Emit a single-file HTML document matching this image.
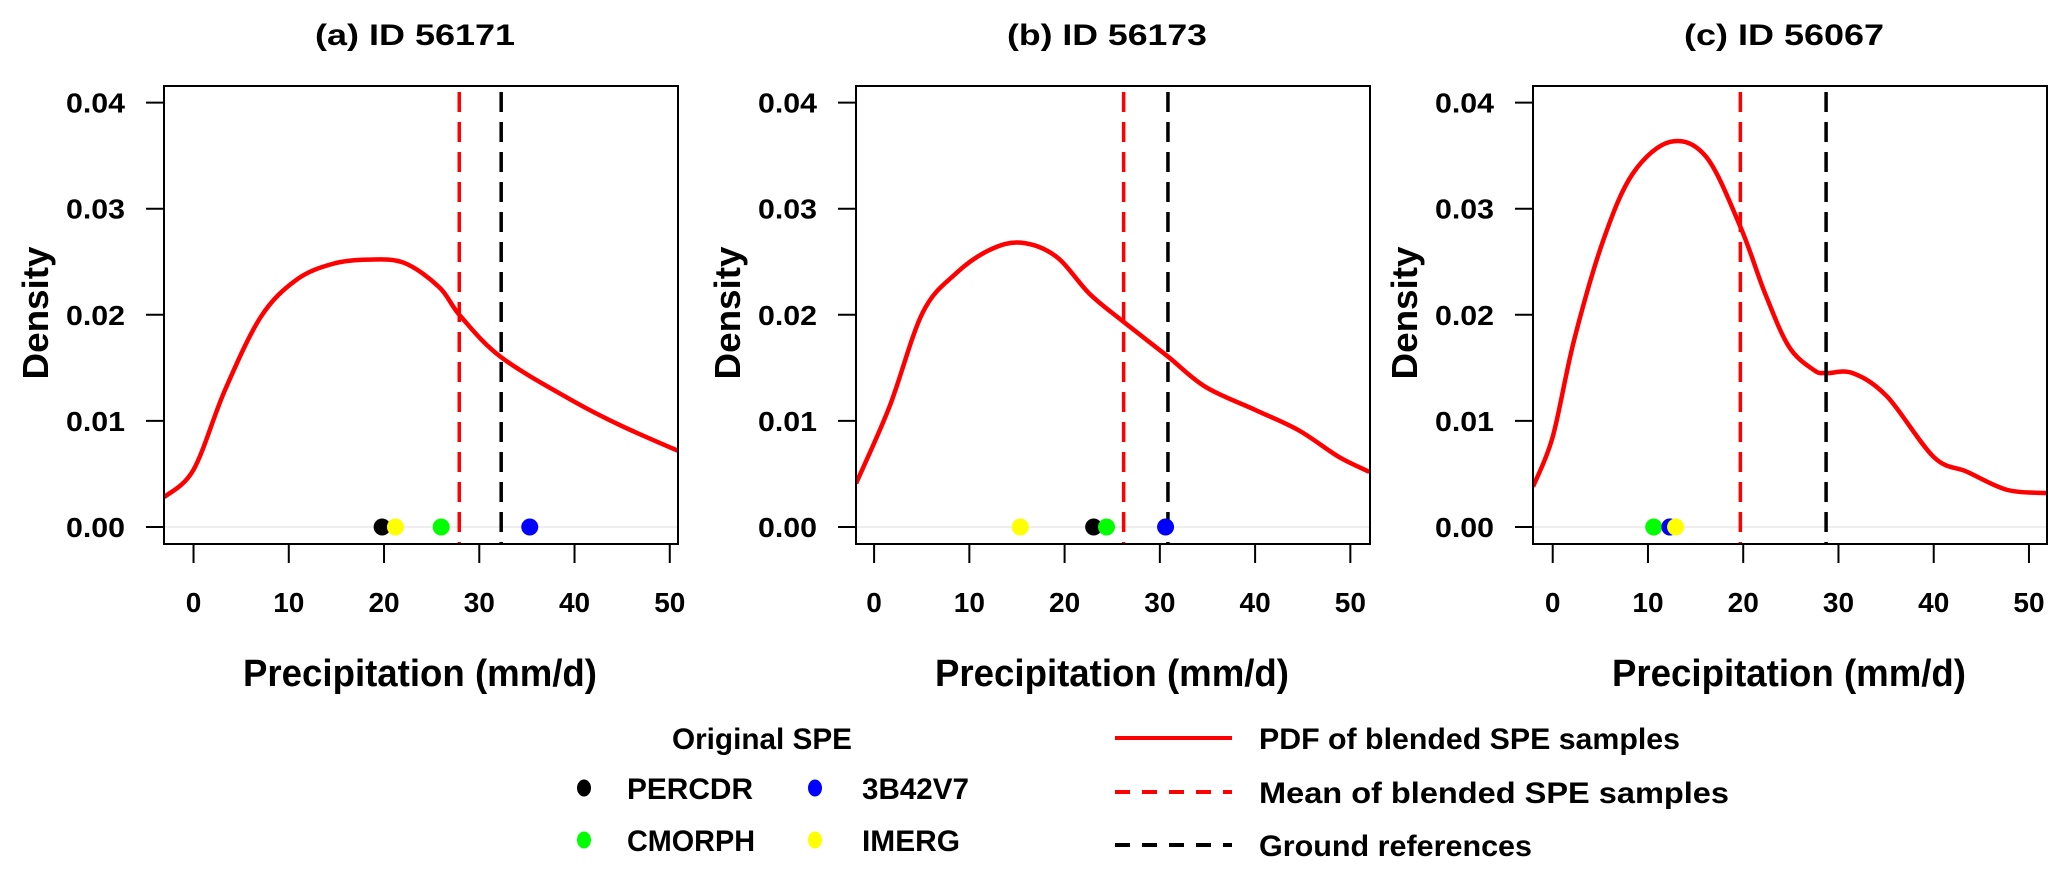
<!DOCTYPE html>
<html><head><meta charset="utf-8"><style>
html,body{margin:0;padding:0;background:#fff;}
svg{display:block;font-family:"Liberation Sans",Arial,sans-serif;font-weight:bold;}
</style></head><body>
<svg id="fig" width="2067" height="876" viewBox="0 0 2067 876">
<g id="panels"></g>
<g id="legend">
  <text x="672" y="749" font-size="30" textLength="180" lengthAdjust="spacingAndGlyphs">Original SPE</text>
  <ellipse cx="584" cy="788" rx="7" ry="8.5" fill="#000"/>
  <text x="627" y="799" font-size="30" textLength="126" lengthAdjust="spacingAndGlyphs">PERCDR</text>
  <ellipse cx="815" cy="788" rx="7" ry="8.5" fill="#0000ff"/>
  <text x="862" y="799" font-size="30" textLength="107" lengthAdjust="spacingAndGlyphs">3B42V7</text>
  <ellipse cx="584" cy="840" rx="7" ry="8.5" fill="#00ff00"/>
  <text x="627" y="851" font-size="30" textLength="128" lengthAdjust="spacingAndGlyphs">CMORPH</text>
  <ellipse cx="815" cy="840" rx="7" ry="8.5" fill="#ffff00"/>
  <text x="862" y="851" font-size="30" textLength="98" lengthAdjust="spacingAndGlyphs">IMERG</text>
  <line x1="1115" y1="738" x2="1232" y2="738" stroke="#ff0000" stroke-width="4"/>
  <text x="1259" y="749" font-size="30" textLength="421" lengthAdjust="spacingAndGlyphs">PDF of blended SPE samples</text>
  <line x1="1115" y1="792" x2="1232" y2="792" stroke="#ff0000" stroke-width="4" stroke-dasharray="15 12"/>
  <text x="1259" y="803" font-size="30" textLength="470" lengthAdjust="spacingAndGlyphs">Mean of blended SPE samples</text>
  <line x1="1115" y1="845" x2="1232" y2="845" stroke="#000" stroke-width="4" stroke-dasharray="15 12"/>
  <text x="1259" y="856" font-size="30" textLength="273" lengthAdjust="spacingAndGlyphs">Ground references</text>
</g>
</svg>
<script>
const titles = ["(a) ID 56171", "(b) ID 56173", "(c) ID 56067"];
const xTicks = [0, 10, 20, 30, 40, 50];
const yTicks = [0.00, 0.01, 0.02, 0.03, 0.04];
const yTickLabels = ["0.00", "0.01", "0.02", "0.03", "0.04"];
const xMinA = -3.1, xMinB = -1.9, xMinC = -2.07;
const curveAx = [-3.1, 0, 3.3, 7.06, 10.8, 14.6, 18.3, 22.1, 25.8, 28.0, 32.3, 39.6, 45, 52.1];
const curveAy = [0.0028, 0.0054, 0.0129, 0.0198, 0.0233, 0.0248, 0.0252, 0.0249, 0.0226, 0.0199, 0.0160, 0.0120, 0.0095, 0.0067];
const curveBx = [-1.9, 1.6, 5.1, 8.6, 12.1, 15.4, 19.1, 22.6, 26.1, 30.8, 34.8, 40.1, 44.6, 48.8, 52.0];
const curveBy = [0.0041, 0.0113, 0.0202, 0.0239, 0.0261, 0.0268, 0.0255, 0.0220, 0.0194, 0.0161, 0.0132, 0.0110, 0.0091, 0.0066, 0.0052];
const curveCx = [-2.07, 0, 2.24, 5.3, 8.4, 12.35, 16.1, 19.7, 22.3, 24.8, 27.4, 28.7, 31.5, 35.1, 40.0, 43.5, 47.7, 51.9];
const curveCy = [0.0038, 0.0085, 0.0176, 0.0270, 0.0333, 0.0363, 0.0349, 0.0283, 0.0220, 0.0170, 0.0148, 0.0145, 0.0145, 0.0123, 0.0066, 0.0052, 0.0035, 0.0032];
const meanVals = [27.9, 26.2, 19.7];
const groundVals = [32.3, 30.85, 28.7];
const percdrVals = [19.8, 23.05, 12.3];
const cmorphVals = [26.0, 24.4, 10.6];
const b42Vals = [35.3, 30.6, 12.3];
const imergVals = [21.2, 15.35, 12.9];

const NS = "http://www.w3.org/2000/svg";
const panelLefts = [164, 856, 1533];
const xMins = [xMinA, xMinB, xMinC];
const curvesX = [curveAx, curveBx, curveCx];
const curvesY = [curveAy, curveBy, curveCy];
const W = 514, TOP = 86, BOT = 544, Y0 = 527, YPX = 10610, XPX = 9.525;
function mk(tag, attrs, parent) { const e = document.createElementNS(NS, tag); for (const k in attrs) e.setAttribute(k, attrs[k]); parent.appendChild(e); return e; }
const root = document.getElementById("panels");
const letters = ["a", "b", "c"];
for (let p = 0; p < 3; p++) {
  const L = panelLefts[p], xmin = xMins[p];
  const sx = v => L + (v - xmin) * XPX;
  const sy = v => Y0 - v * YPX;
  const g = mk("g", {}, root);
  
  
  const t = mk("text", {x: L + W / 2 - 6, y: 45, "font-size": 30, "text-anchor": "middle", textLength: 200, lengthAdjust: "spacingAndGlyphs"}, g);
  t.textContent = titles[p];
  
  
  const yt = mk("text", {x: 0, y: 0, "font-size": 36, "text-anchor": "middle", textLength: 133, lengthAdjust: "spacingAndGlyphs", transform: `translate(${L - 116},313) rotate(-90)`}, g);
  yt.textContent = "Density";
  
  
  const xt = mk("text", {x: L + W / 2 - 1, y: 686, "font-size": 38, "text-anchor": "middle", textLength: 354, lengthAdjust: "spacingAndGlyphs"}, g);
  xt.textContent = "Precipitation (mm/d)";
  
  
  const zl = mk("line", {x1: L, x2: L + W, y1: sy(0), y2: sy(0), stroke: "#e8e8e8", "stroke-width": 1.5}, g);
  
  
  yTicks.forEach((v, i) => {
    const tk = mk("line", {x1: L - 18, x2: L, y1: sy(v), y2: sy(v), stroke: "#000", "stroke-width": 2}, g);
    
    
    const tl = mk("text", {x: L - 39, y: sy(v) + 10, "font-size": 28, "text-anchor": "end", textLength: 59, lengthAdjust: "spacingAndGlyphs"}, g);
    tl.textContent = yTickLabels[i];
    
    
  });
  xTicks.forEach(v => {
    const tk = mk("line", {x1: sx(v), x2: sx(v), y1: BOT, y2: BOT + 19, stroke: "#000", "stroke-width": 2}, g);
    
    
    const tl = mk("text", {x: sx(v), y: 612, "font-size": 28, "text-anchor": "middle"}, g);
    tl.textContent = String(v);
    
    
  });
  const xs = curvesX[p], ys = curvesY[p];
  const pts = xs.map((v, i) => [sx(v), sy(ys[i])]);
  let d = `M${pts[0][0]},${pts[0][1]}`;
  for (let i = 0; i < pts.length - 1; i++) {
    const p0 = pts[Math.max(0, i - 1)], p1 = pts[i], p2 = pts[i + 1], p3 = pts[Math.min(pts.length - 1, i + 2)];
    const c1 = [p1[0] + (p2[0] - p0[0]) / 6, p1[1] + (p2[1] - p0[1]) / 6];
    const c2 = [p2[0] - (p3[0] - p1[0]) / 6, p2[1] - (p3[1] - p1[1]) / 6];
    d += ` C${c1[0]},${c1[1]} ${c2[0]},${c2[1]} ${p2[0]},${p2[1]}`;
  }
  const clipId = "clip" + p;
  const cp = mk("clipPath", {id: clipId}, g);
  mk("rect", {x: L, y: TOP, width: W, height: BOT - TOP}, cp);
  const cv = mk("path", {d: d, fill: "none", stroke: "#ff0000", "stroke-width": 4.5, "clip-path": `url(#${clipId})`}, g);
  
  
  const ml = mk("line", {x1: sx(meanVals[p]), x2: sx(meanVals[p]), y1: 92, y2: BOT, stroke: "#ff0000", "stroke-width": 3.5, "stroke-dasharray": "20 10"}, g);
  
  
  const gl = mk("line", {x1: sx(groundVals[p]), x2: sx(groundVals[p]), y1: 92, y2: BOT, stroke: "#000", "stroke-width": 3.5, "stroke-dasharray": "20 10"}, g);
  
  
  const dots = [[percdrVals, "#000", "percdr"], [cmorphVals, "#00ff00", "cmorph"], [b42Vals, "#0000ff", "3b42v7"], [imergVals, "#ffff00", "imerg"]];
  dots.forEach(([arr, col, nm]) => {
    const c = mk("circle", {cx: sx(arr[p]), cy: sy(0), r: 8.5, fill: col}, g);
    
    
  });
  const box = mk("rect", {x: L, y: TOP, width: W, height: BOT - TOP, fill: "none", stroke: "#000", "stroke-width": 2}, g);
  
  
}
</script>
</body></html>
